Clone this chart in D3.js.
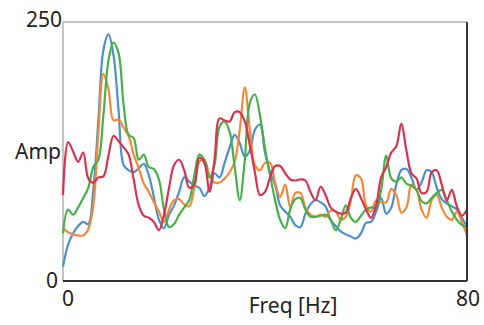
<!DOCTYPE html>
<html>
<head>
<meta charset="utf-8">
<script src="https://cdn.jsdelivr.net/npm/d3@7"></script>
<style>
  html, body { margin: 0; padding: 0; background: #fff; }
  svg text { font-family: "Noto Sans", "Open Sans", sans-serif; fill: #222; }
</style>
</head>
<body>
<div id="chart"></div>
<script>
// Frequency bins, 0..80 Hz in 1 Hz steps
const freqs = d3.range(0, 81);

const blue = [14,35,46,53,57,55,88,155,223,238,218,165,112,107,105,109,113,102,81,59,51,64,73,86,100,96,92,90,82,90,104,100,114,129,141,133,120,126,146,151,124,105,93,73,67,62,54,52,65,74,78,76,72,59,53,48,45,43,41,46,56,57,67,80,65,71,93,107,108,100,88,95,107,105,90,79,75,72,69,61,52];
const orange = [51,47,45,44,44,50,73,143,200,185,155,156,148,140,122,109,94,86,76,67,57,69,78,79,74,72,90,115,117,102,95,95,99,105,115,146,187,146,112,107,114,114,95,81,93,71,85,85,71,64,62,64,62,68,67,59,62,78,102,99,73,67,78,76,76,89,83,66,71,93,88,69,61,78,83,71,62,59,67,57,44];
const green = [46,69,64,71,80,90,110,117,160,213,230,220,170,141,138,117,122,110,108,98,69,52,55,64,71,78,102,122,117,100,112,149,154,144,110,78,117,172,180,160,128,102,78,59,51,69,79,80,69,62,62,63,64,59,49,59,73,61,57,63,69,71,71,88,121,99,96,100,94,92,88,77,75,80,85,88,78,67,59,54,52];
const red = [83,134,125,115,124,99,95,100,101,121,140,135,129,122,98,73,63,61,57,49,64,90,112,117,107,90,93,119,114,86,117,157,155,154,163,163,154,131,105,83,86,100,111,111,104,98,97,98,97,86,78,91,83,71,67,65,66,80,89,80,69,61,73,100,110,124,130,152,126,104,99,85,86,105,107,93,78,88,72,63,69];

const seriesList = [
    { name: 'blue', values: blue, color: '#4a90cd' },
    { name: 'orange', values: orange, color: '#f68737' },
    { name: 'green', values: green, color: '#48af48' },
    { name: 'red', values: red, color: '#d73250' }
];

const xTicks = [0, 80];
const yTicks = [0, 250];

const width = 484, height = 325;
const margin = { top: 22, right: 17, bottom: 44, left: 63 };
const innerW = width - margin.left - margin.right;
const innerH = height - margin.top - margin.bottom;

const svg = d3.select('#chart')
    .append('svg')
    .attr('width', width)
    .attr('height', height);

const x = d3.scaleLinear().domain([0, 80]).range([0, innerW]);
const y = d3.scaleLinear().domain([0, 250]).range([innerH, 0]);

const g = svg.append('g')
    .attr('transform', `translate(${margin.left},${margin.top})`);

// Frame: light top/left, dark bottom/right
g.append('line')
    .attr('x1', 0).attr('x2', innerW).attr('y1', 0).attr('y2', 0)
    .attr('stroke', '#c4c4c4').attr('stroke-width', 2);
g.append('line')
    .attr('x1', 0).attr('x2', 0).attr('y1', 0).attr('y2', innerH)
    .attr('stroke', '#c4c4c4').attr('stroke-width', 2);

const line = d3.line()
    .x((d, i) => x(freqs[i]))
    .y(d => y(d))
    .curve(d3.curveCatmullRom.alpha(0.5));

g.selectAll('path.series')
    .data(seriesList)
    .join('path')
    .attr('class', 'series')
    .attr('d', d => line(d.values))
    .attr('fill', 'none')
    .attr('stroke', d => d.color)
    .attr('stroke-width', 2.2)
    .attr('stroke-linejoin', 'round');

g.append('line')
    .attr('x1', 0).attr('x2', innerW).attr('y1', innerH).attr('y2', innerH)
    .attr('stroke', '#333').attr('stroke-width', 2);
g.append('line')
    .attr('x1', innerW).attr('x2', innerW).attr('y1', 0).attr('y2', innerH)
    .attr('stroke', '#333').attr('stroke-width', 2);

// Tick labels
g.selectAll('text.ytick')
    .data(yTicks)
    .join('text')
    .attr('class', 'ytick')
    .attr('x', d => d === 0 ? -5 : -1)
    .attr('y', d => y(d) + (d === 0 ? 7 : 5))
    .attr('text-anchor', 'end')
    .style('font-size', '21px')
    .text(d => d);

g.selectAll('text.xtick')
    .data(xTicks)
    .join('text')
    .attr('class', 'xtick')
    .attr('x', d => x(d) + (d === 0 ? 5 : 1))
    .attr('y', innerH + 25)
    .attr('text-anchor', 'middle')
    .style('font-size', '21px')
    .text(d => d);

// Axis titles
g.append('text')
    .attr('x', -2)
    .attr('y', y(125) + 7)
    .attr('text-anchor', 'end')
    .style('font-size', '21px')
    .text('Amp');

g.append('text')
    .attr('x', innerW / 2 + 28)
    .attr('y', innerH + 32)
    .attr('text-anchor', 'middle')
    .style('font-size', '21px')
    .text('Freq [Hz]');
</script>
</body>
</html>
